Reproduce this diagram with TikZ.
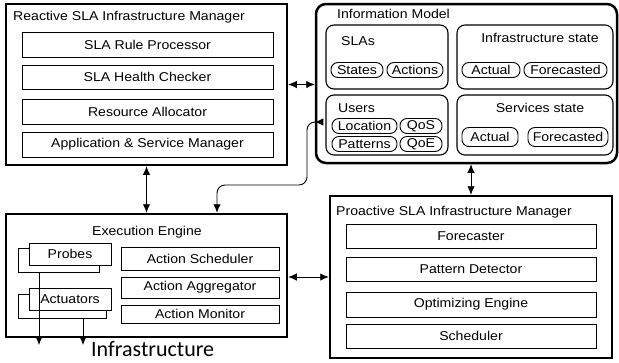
\documentclass[tikz,border=0pt]{standalone}
\usepackage{fontspec}
\setmainfont{Liberation Sans}[FakeStretch = 1.1]
\newfontfamily\infrafont{Carlito}
\usetikzlibrary{arrows.meta}

\begin{document}
\begin{tikzpicture}[x = 1pt, y = -1pt, font = \fontsize{12.8}{14}\selectfont,
  >= {Latex[length = 8.5pt, width = 7.5pt]},
  frame/.style = {draw, line width = 2.5pt, inner sep = 0},
  part/.style = {draw, line width = .9pt, inner sep = 0},
  group/.style = {draw, line width = 1.1pt, inner sep = 0, rounded corners = 8pt},
  pill/.style = {draw, line width = .9pt, inner sep = 0, rounded corners = 7pt,
    minimum height = 15pt},
  title/.style = {anchor = base west, inner sep = 0},
  link/.style = {line width = .9pt}]
  \useasboundingbox (0, 0) rectangle (619, 362);

  % reactive manager
  \node[frame, minimum width = 281pt, minimum height = 161pt] (reactive) at
  (146.5, 84.5) {};
  \node[title] (reactivetitle) at (13, 20.5) {Reactive SLA Infrastructure Manager};
  \node[part, minimum width = 251pt, minimum height = 25pt] (ruleproc) at
  (147.5, 44.5) {SLA Rule Processor};
  \node[part, minimum width = 251pt, minimum height = 24pt] (healthchk) at
  (147.5, 77) {SLA Health Checker};
  \node[part, minimum width = 251pt, minimum height = 25pt] (resalloc) at
  (147.5, 111.5) {Resource Allocator};
  \node[part, minimum width = 251pt, minimum height = 25pt] (appsvc) at
  (147.5, 144.5) {Application \& Service Manager};

  % information model
  \node[frame, rounded corners = 10pt, minimum width = 301pt,
  minimum height = 159pt] (infomodel) at (466.5, 83.5) {};
  \node[title] (infotitle) at (337, 18) {Information Model};
  \node[group, minimum width = 122pt, minimum height = 64pt] (slas) at
  (387, 57) {};
  \node[group, minimum width = 156pt, minimum height = 64pt] (infstate) at
  (535, 57) {};
  \node[group, minimum width = 122pt, minimum height = 60pt] (users) at
  (387, 125) {};
  \node[group, minimum width = 156pt, minimum height = 60pt] (svcstate) at
  (535, 125) {};
  \node[title] (slastitle) at (341, 45) {SLAs};
  \node[anchor = base, inner sep = 0] (infstatetitle) at (540, 42)
  {Infrastructure state};
  \node[title] (userstitle) at (338, 112) {Users};
  \node[anchor = base, inner sep = 0] (svcstatetitle) at (540, 112)
  {Services state};
  \node[pill, minimum width = 52pt] (states) at (357, 70) {States};
  \node[pill, minimum width = 56pt] (actions) at (415, 70) {Actions};
  \node[pill, minimum width = 58pt] (actualinf) at (491, 70) {Actual};
  \node[pill, minimum width = 83pt] (fcastinf) at (565.5, 70) {Forecasted};
  \node[pill, minimum width = 65pt] (location) at (364.5, 126) {Location};
  \node[pill, minimum width = 42pt] (qos) at (421, 126) {QoS};
  \node[pill, minimum width = 65pt] (patterns) at (364.5, 144) {Patterns};
  \node[pill, minimum width = 42pt] (qoe) at (421, 144) {QoE};
  \node[pill, minimum width = 56pt, minimum height = 19pt] (actualsvc) at
  (490, 137) {Actual};
  \node[pill, minimum width = 80pt, minimum height = 19pt] (fcastsvc) at
  (568, 137) {Forecasted};

  % execution engine
  \node[frame, minimum width = 281pt, minimum height = 123pt] (exec) at
  (146.5, 275.5) {};
  \node[anchor = base, inner sep = 0] (exectitle) at (147, 235)
  {Execution Engine};
  \node[part, minimum width = 81pt, minimum height = 24pt] (probesback) at
  (58.5, 260) {};
  \node[part, fill = white, minimum width = 82pt, minimum height = 22pt]
  (probes) at (70, 254) {Probes};
  \node[part, minimum width = 88pt, minimum height = 24pt] (actback) at
  (62, 306) {};
  \node[part, fill = white, minimum width = 82pt, minimum height = 22pt]
  (actuators) at (70, 299) {Actuators};
  \node[part, minimum width = 158pt, minimum height = 23pt] (actsched) at
  (200, 258.5) {Action Scheduler};
  \node[part, minimum width = 158pt, minimum height = 21pt] (actaggr) at
  (200, 287.5) {Action Aggregator};
  \node[part, minimum width = 158pt, minimum height = 18pt] (actmon) at
  (200, 314) {Action Monitor};
  \coordinate (probesout) at (39, 345);
  \coordinate (actout) at (83, 345);
  \node[anchor = base west, inner sep = 0,
  font = \infrafont\fontsize{22}{24}\selectfont] (infra) at (91, 356)
  {Infrastructure};

  % proactive manager
  \node[frame, minimum width = 282pt, minimum height = 162pt] (proactive) at
  (471, 277) {};
  \node[title] (proactivetitle) at (336, 215)
  {Proactive SLA Infrastructure Manager};
  \node[part, minimum width = 250pt, minimum height = 24pt] (forecaster) at
  (471, 236) {Forecaster};
  \node[part, minimum width = 250pt, minimum height = 24pt] (patdetect) at
  (471, 269) {Pattern Detector};
  \node[part, minimum width = 250pt, minimum height = 25pt] (optengine) at
  (471, 304.5) {Optimizing Engine};
  \node[part, minimum width = 250pt, minimum height = 24pt] (scheduler) at
  (471, 336) {Scheduler};

  % connectors
  \draw[link, <->] (reactive.east) -- (infomodel.west |- reactive.east);
  \draw[link, <->] (reactive.south) -- (exec.north);
  \draw[link, <->] (proactive.north |- infomodel.south) -- (proactive.north);
  \draw[link, <->] (exec.east |- proactive.west) -- (proactive.west);
  \draw[link, <->, rounded corners = 8pt] (exec.north -| 217, 0) |- (307, 185)
  |- (infomodel.west |- 0, 122);
  \draw[link, ->] (probesback.south -| probesout) -- (probesout);
  \draw[link, ->] (actback.south -| actout) -- (actout);
\end{tikzpicture}
\end{document}
